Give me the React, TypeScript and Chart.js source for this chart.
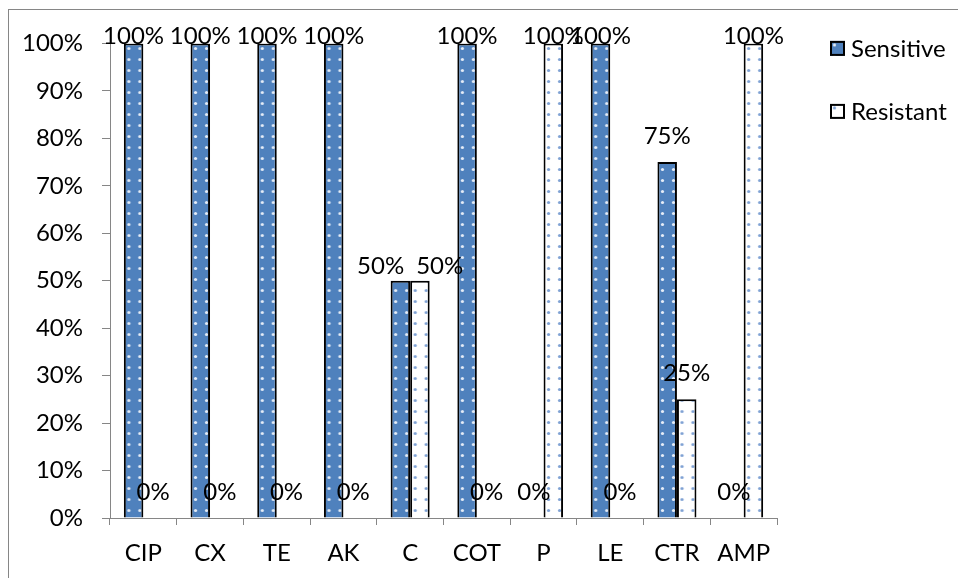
import React, { useEffect, useRef } from "react";
import { Chart, registerables } from "chart.js";

Chart.register(...registerables);

// Antibiotic susceptibility (% of isolates)
const categories = ["CIP", "CX", "TE", "AK", "C", "COT", "P", "LE", "CTR", "AMP"];
const sensitive = [100, 100, 100, 100, 50, 100, 0, 100, 75, 0];
const resistant = [0, 0, 0, 0, 50, 0, 100, 0, 25, 100];
const seriesNames = ["Sensitive", "Resistant"];
const yMin = 0;
const yMax = 100;
const yStep = 10;

const FONT_FAMILY = "Lato, 'Liberation Sans', sans-serif";
const FONT_SIZE = 24;
const FONT = `${FONT_SIZE}px ${FONT_FAMILY}`;
const AXIS_GREY = "#868686";
const BLUE = "#4F81BD";
const CATEGORY_PCT = 0.585;
const TILE = 11;

function dotTile(base: string, dot: string) {
  const tile = document.createElement("canvas");
  tile.width = TILE;
  tile.height = TILE;
  const g = tile.getContext("2d")!;
  g.fillStyle = base;
  g.fillRect(0, 0, TILE, TILE);
  g.fillStyle = dot;
  g.beginPath();
  g.arc(TILE / 2, TILE / 2, 1.6, 0, Math.PI * 2);
  g.fill();
  return tile;
}

// Dotted fill whose columns line up with the left edge of each bar
function barFill(ctx: CanvasRenderingContext2D, tile: HTMLCanvasElement, side: number) {
  const cache = new Map<string, CanvasPattern>();
  return (c: any) => {
    const xs = c.chart.scales?.x;
    if (!xs || c.dataIndex === undefined) return ctx.createPattern(tile, "repeat");
    const center = xs.getPixelForValue(c.dataIndex);
    const half = (xs.width / categories.length) * CATEGORY_PCT / 2;
    const left = side === 0 ? center - half : center;
    const key = left.toFixed(2);
    let p = cache.get(key);
    if (!p) {
      p = ctx.createPattern(tile, "repeat")!;
      p.setTransform(new DOMMatrix().translate(left - 0.5, 0));
      cache.set(key, p);
    }
    return p;
  };
}

// Percent labels above each bar; labels that collide within a category are pushed apart.
const valueLabels = {
  id: "valueLabels",
  afterDatasetsDraw(chart: any) {
    const ctx: CanvasRenderingContext2D = chart.ctx;
    const area = chart.chartArea;
    ctx.save();
    ctx.font = FONT;
    ctx.fillStyle = "#000";
    ctx.textAlign = "center";
    ctx.textBaseline = "alphabetic";
    const metas = chart.data.datasets.map((_: any, d: number) => chart.getDatasetMeta(d));
    categories.forEach((_, i) => {
      const items = metas.map((m: any, d: number) => {
        const bar = m.data[i];
        const v = chart.data.datasets[d].data[i];
        const text = `${v}%`;
        return {
          x: bar.x,
          y: Math.max(bar.y - 18, area.top + 1),
          top: bar.y,
          text,
          w: ctx.measureText(text).width,
        };
      });
      const [a, b] = items;
      if (a && b && Math.abs(a.y - b.y) < FONT_SIZE) {
        const overlap = (a.w + b.w) / 2 - (b.x - a.x);
        if (overlap > 0) {
          const shift = (overlap + 12) / 2;
          a.x -= shift;
          b.x += shift;
          a.y = Math.max(a.top - 7, area.top + 1);
          b.y = Math.max(b.top - 7, area.top + 1);
        }
      }
      items.forEach((it: any) => ctx.fillText(it.text, it.x, it.y));
    });
    ctx.restore();
  },
};

// Legend to the right of the plot area
const sideLegend = {
  id: "sideLegend",
  afterDraw(chart: any) {
    const ctx: CanvasRenderingContext2D = chart.ctx;
    const area = chart.chartArea;
    const x = area.right + 53;
    const tiles = chart.options.plugins.sideLegend.tiles as HTMLCanvasElement[];
    ctx.save();
    ctx.font = FONT;
    ctx.textAlign = "left";
    ctx.textBaseline = "middle";
    chart.data.datasets.forEach((ds: any, d: number) => {
      const cy = area.top + 5 + d * 63;
      const p = ctx.createPattern(tiles[d], "repeat")!;
      p.setTransform(new DOMMatrix().translate(x - 1, cy - 9));
      ctx.fillStyle = p;
      ctx.fillRect(x, cy - 7.5, 15, 15);
      ctx.strokeStyle = "#000";
      ctx.lineWidth = 2;
      ctx.strokeRect(x + 1, cy - 6.5, 13, 13);
      ctx.fillStyle = "#000";
      ctx.fillText(ds.label, x + 21, cy + 1);
    });
    ctx.restore();
  },
};

export default function App() {
  const canvasRef = useRef<HTMLCanvasElement | null>(null);

  useEffect(() => {
    const canvas = canvasRef.current!;
    const ctx = canvas.getContext("2d")!;
    const sensTile = dotTile(BLUE, "#e6edf7");
    const resTile = dotTile("#ffffff", "#7fa2d4");

    const chart = new Chart(canvas, {
      type: "bar",
      data: {
        labels: categories,
        datasets: [
          {
            label: seriesNames[0],
            data: sensitive,
            backgroundColor: barFill(ctx, sensTile, 0) as any,
            borderColor: "#000",
            borderWidth: 2,
            categoryPercentage: CATEGORY_PCT,
            barPercentage: 1,
          },
          {
            label: seriesNames[1],
            data: resistant,
            backgroundColor: barFill(ctx, resTile, 1) as any,
            borderColor: "#000",
            borderWidth: 2,
            categoryPercentage: CATEGORY_PCT,
            barPercentage: 1,
          },
        ],
      },
      options: {
        responsive: false,
        animation: false,
        layout: { padding: { top: 28, right: 181, left: 0, bottom: 0 } },
        plugins: {
          legend: { display: false },
          tooltip: { enabled: false },
          sideLegend: { tiles: [sensTile, resTile] },
        } as any,
        scales: {
          x: {
            grid: {
              display: true,
              drawOnChartArea: false,
              drawTicks: true,
              tickLength: 7,
              color: AXIS_GREY,
              offset: true,
            },
            border: { display: true, color: AXIS_GREY, width: 1 },
            ticks: {
              color: "#000",
              font: { family: FONT_FAMILY, size: FONT_SIZE },
              padding: 14,
              maxRotation: 0,
              autoSkip: false,
            },
            afterFit: (scale: any) => {
              scale.height = 60;
            },
          },
          y: {
            min: yMin,
            max: yMax,
            grid: {
              display: true,
              drawOnChartArea: false,
              drawTicks: true,
              tickLength: 8,
              color: AXIS_GREY,
            },
            border: { display: true, color: AXIS_GREY, width: 1 },
            ticks: {
              stepSize: yStep,
              color: "#000",
              font: { family: FONT_FAMILY, size: FONT_SIZE },
              padding: 19,
              callback: (v: any) => `${v}%`,
            },
            afterFit: (scale: any) => {
              scale.width = 101;
            },
          },
        },
      },
      plugins: [valueLabels, sideLegend],
    });
    return () => chart.destroy();
  }, []);

  return (
    <div
      style={{
        position: "fixed",
        left: 8,
        top: 9,
        width: 950,
        height: 569,
        borderTop: `1px solid ${AXIS_GREY}`,
        borderLeft: `1px solid ${AXIS_GREY}`,
        boxSizing: "border-box",
        background: "#fff",
      }}
    >
      <canvas ref={canvasRef} width={949} height={568} style={{ display: "block" }} />
    </div>
  );
}
